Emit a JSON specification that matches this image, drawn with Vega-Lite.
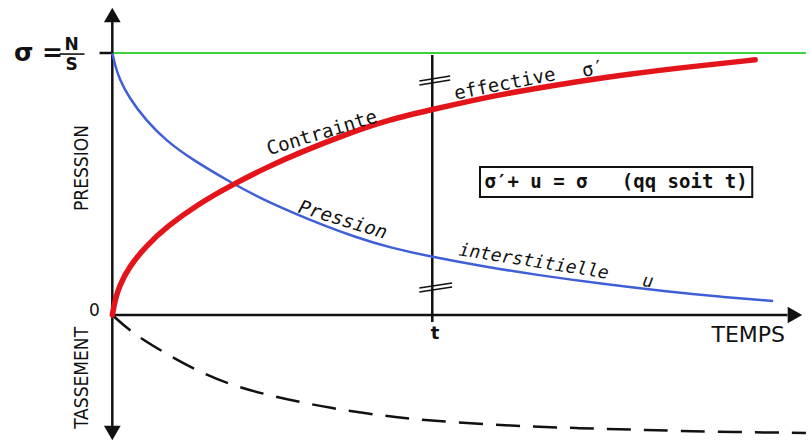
{
  "$schema": "https://vega.github.io/schema/vega-lite/v6.json",
  "width": 811,
  "height": 444,
  "padding": 0,
  "autosize": {"type": "fit", "contains": "padding"},
  "background": "white",
  "config": {"view": {"stroke": null}},
  "datasets": {
    "contrainte": [
      {"t": 0, "p": 0}, {"t": 0.0093, "p": 6.0}, {"t": 0.0217, "p": 11.0}, {"t": 0.0528, "p": 18.5},
      {"t": 0.1056, "p": 26.3}, {"t": 0.1677, "p": 33.5}, {"t": 0.2702, "p": 42.5}, {"t": 0.3727, "p": 49.6},
      {"t": 0.4783, "p": 56.1}, {"t": 0.5807, "p": 61.8}, {"t": 0.7578, "p": 70.2}, {"t": 0.8602, "p": 74.4},
      {"t": 1.0062, "p": 78.6}, {"t": 1.2019, "p": 84.0}, {"t": 1.4099, "p": 88.3}, {"t": 1.6149, "p": 92.0},
      {"t": 1.823, "p": 95.0}, {"t": 2.0093, "p": 97.4}
    ],
    "interstitielle": [
      {"t": 0, "p": 100}, {"t": 0.0093, "p": 95.0}, {"t": 0.0217, "p": 90.3}, {"t": 0.0528, "p": 82.8},
      {"t": 0.1056, "p": 74.2}, {"t": 0.1677, "p": 66.6}, {"t": 0.2484, "p": 59.4}, {"t": 0.3727, "p": 50.4},
      {"t": 0.4783, "p": 43.6}, {"t": 0.5807, "p": 38.2}, {"t": 0.6522, "p": 34.6}, {"t": 0.7578, "p": 29.8},
      {"t": 0.8602, "p": 25.9}, {"t": 1.0062, "p": 22.0}, {"t": 1.1708, "p": 18.3}, {"t": 1.3261, "p": 15.3},
      {"t": 1.5342, "p": 11.8}, {"t": 1.7391, "p": 8.9}, {"t": 1.8944, "p": 7.0}, {"t": 2.0652, "p": 5.3}
    ],
    "tassement": [
      {"t": 0, "p": 0}, {"t": 0.0621, "p": -6.9}, {"t": 0.1677, "p": -14.8}, {"t": 0.2702, "p": -21.6},
      {"t": 0.3727, "p": -26.8}, {"t": 0.4783, "p": -30.3}, {"t": 0.5807, "p": -33.1}, {"t": 0.6832, "p": -35.5},
      {"t": 0.7888, "p": -37.5}, {"t": 0.8913, "p": -39.1}, {"t": 0.9938, "p": -40.3}, {"t": 1.2547, "p": -42.4},
      {"t": 1.4596, "p": -43.2}, {"t": 1.6677, "p": -43.9}, {"t": 1.8758, "p": -44.6}, {"t": 2.1677, "p": -45.0}
    ],
    "sigma": [{"t": 0, "t2": 2.168, "p": 100, "p2": 100}],
    "traits": [
      {"t": 0, "p": 112, "t2": 0, "p2": -44},
      {"t": 0, "p": 0, "t2": 2.11, "p2": 0},
      {"t": 1, "p": 99.2, "t2": 1, "p2": -2.7},
      {"t": -0.04, "p": 100, "t2": 0, "p2": 100}
    ],
    "fins": [
      {"t": -0.165, "p": 99.6, "t2": -0.087, "p2": 99.6},
      {"t": 0.9596, "p": 89.3, "t2": 1.0559, "p2": 91.2},
      {"t": 0.9596, "p": 87.8, "t2": 1.0559, "p2": 89.7},
      {"t": 0.9596, "p": 10.3, "t2": 1.0621, "p2": 12.2},
      {"t": 0.9596, "p": 8.8, "t2": 1.0621, "p2": 10.7}
    ],
    "fleches": [
      {"t": 0, "p": 114.5, "sens": "haut"},
      {"t": 0, "p": -45.0, "sens": "bas"},
      {"t": 2.1335, "p": 0, "sens": "droite"}
    ],
    "cadre": [{"t": 1.1491, "t2": 2.0, "p": 56.5, "p2": 45.0}]
  },
  "encoding": {
    "x": {"field": "t", "type": "quantitative", "scale": {"domain": [-0.351, 2.168], "nice": false, "zero": false}, "axis": null},
    "y": {"field": "p", "type": "quantitative", "scale": {"domain": [-49.24, 120.23], "nice": false, "zero": false}, "axis": null}
  },
  "layer": [
    {
      "data": {"name": "sigma"},
      "mark": {"type": "rule", "color": "#3fd23f", "strokeWidth": 2},
      "encoding": {"x2": {"field": "t2"}}
    },
    {
      "data": {"name": "traits"},
      "mark": {"type": "rule", "color": "#111111", "strokeWidth": 2.5},
      "encoding": {"x2": {"field": "t2"}, "y2": {"field": "p2"}}
    },
    {
      "data": {"name": "fins"},
      "mark": {"type": "rule", "color": "#111111", "strokeWidth": 1.6},
      "encoding": {"x2": {"field": "t2"}, "y2": {"field": "p2"}}
    },
    {
      "data": {"name": "fleches"},
      "mark": {"type": "point", "filled": true, "color": "#111111", "opacity": 1, "size": 280},
      "encoding": {
        "shape": {"field": "sens", "type": "nominal", "legend": null,
          "scale": {"domain": ["haut", "bas", "droite"], "range": ["triangle-up", "triangle-down", "triangle-right"]}}
      }
    },
    {
      "data": {"name": "tassement"},
      "mark": {"type": "line", "color": "#111111", "strokeWidth": 2.5, "strokeDash": [24, 13], "interpolate": "basis"}
    },
    {
      "data": {"name": "interstitielle"},
      "mark": {"type": "line", "color": "#3f5fd6", "strokeWidth": 2.5, "interpolate": "basis"}
    },
    {
      "data": {"name": "contrainte"},
      "mark": {"type": "line", "color": "#e3151b", "strokeWidth": 5.5, "strokeCap": "round", "interpolate": "basis"}
    },
    {
      "data": {"name": "cadre"},
      "mark": {"type": "rect", "fill": "white", "stroke": "#111111", "strokeWidth": 2},
      "encoding": {"x2": {"field": "t2"}, "y2": {"field": "p2"}}
    },
    {
      "data": {"values": [{"t": 1.5745, "p": 50.8, "txt": "σ′+ u = σ\u00a0\u00a0\u00a0(qq soit t)"}]},
      "mark": {"type": "text", "font": "DejaVu Sans Mono", "fontWeight": "bold", "fontSize": 19, "align": "center", "baseline": "middle", "color": "#111111"},
      "encoding": {"text": {"field": "txt"}}
    },
    {
      "data": {"values": [{"t": -0.3075, "p": 100, "txt": "σ ="}]},
      "mark": {"type": "text", "font": "DejaVu Sans", "fontWeight": "bold", "fontSize": 25, "align": "left", "baseline": "middle", "color": "#111111"},
      "encoding": {"text": {"field": "txt"}}
    },
    {
      "data": {"values": [{"t": -0.1273, "p": 103.2, "txt": "N"}, {"t": -0.1273, "p": 95.3, "txt": "S"}]},
      "mark": {"type": "text", "font": "DejaVu Sans", "fontWeight": "bold", "fontSize": 17, "align": "center", "baseline": "middle", "color": "#111111"},
      "encoding": {"text": {"field": "txt"}}
    },
    {
      "data": {"values": [{"t": -0.0559, "p": 1.5, "txt": "0"}]},
      "mark": {"type": "text", "font": "DejaVu Sans", "fontSize": 17, "align": "center", "baseline": "middle", "color": "#111111"},
      "encoding": {"text": {"field": "txt"}}
    },
    {
      "data": {"values": [{"t": -0.0932, "p": 56.1, "txt": "PRESSION"}, {"t": -0.0932, "p": -24.0, "txt": "TASSEMENT"}]},
      "mark": {"type": "text", "font": "DejaVu Sans Condensed, Liberation Sans Narrow, Liberation Sans, sans-serif", "fontSize": 19, "angle": 270, "align": "center", "baseline": "middle", "color": "#111111"},
      "encoding": {"text": {"field": "txt"}}
    },
    {
      "data": {"values": [{"t": 1.009, "p": -7.3, "txt": "t"}]},
      "mark": {"type": "text", "font": "DejaVu Sans", "fontWeight": "bold", "fontSize": 18, "align": "center", "baseline": "middle", "color": "#111111"},
      "encoding": {"text": {"field": "txt"}}
    },
    {
      "data": {"values": [{"t": 1.9876, "p": -7.6, "txt": "TEMPS"}]},
      "mark": {"type": "text", "font": "DejaVu Sans", "fontSize": 22, "align": "center", "baseline": "middle", "color": "#111111"},
      "encoding": {"text": {"field": "txt"}}
    },
    {
      "data": {"values": [{"t": 0.6553, "p": 69.5, "txt": "Contrainte"}]},
      "mark": {"type": "text", "font": "DejaVu Sans Mono", "fontSize": 19, "angle": 343, "align": "center", "baseline": "middle", "color": "#111111"},
      "encoding": {"text": {"field": "txt"}}
    },
    {
      "data": {"values": [{"t": 1.2267, "p": 88.2, "txt": "effective"}, {"t": 1.503, "p": 93.9, "txt": "σ′"}]},
      "mark": {"type": "text", "font": "DejaVu Sans Mono", "fontSize": 19, "angle": 349, "align": "center", "baseline": "middle", "color": "#111111"},
      "encoding": {"text": {"field": "txt"}}
    },
    {
      "data": {"values": [{"t": 0.7205, "p": 36.3, "txt": "Pression"}]},
      "mark": {"type": "text", "font": "DejaVu Sans Mono", "fontStyle": "italic", "fontSize": 19, "angle": 17, "align": "center", "baseline": "middle", "color": "#111111"},
      "encoding": {"text": {"field": "txt"}}
    },
    {
      "data": {"values": [{"t": 1.3168, "p": 20.2, "txt": "interstitielle"}, {"t": 1.6739, "p": 12.6, "txt": "u"}]},
      "mark": {"type": "text", "font": "DejaVu Sans Mono", "fontStyle": "italic", "fontSize": 18, "angle": 9, "align": "center", "baseline": "middle", "color": "#111111"},
      "encoding": {"text": {"field": "txt"}}
    }
  ]
}
